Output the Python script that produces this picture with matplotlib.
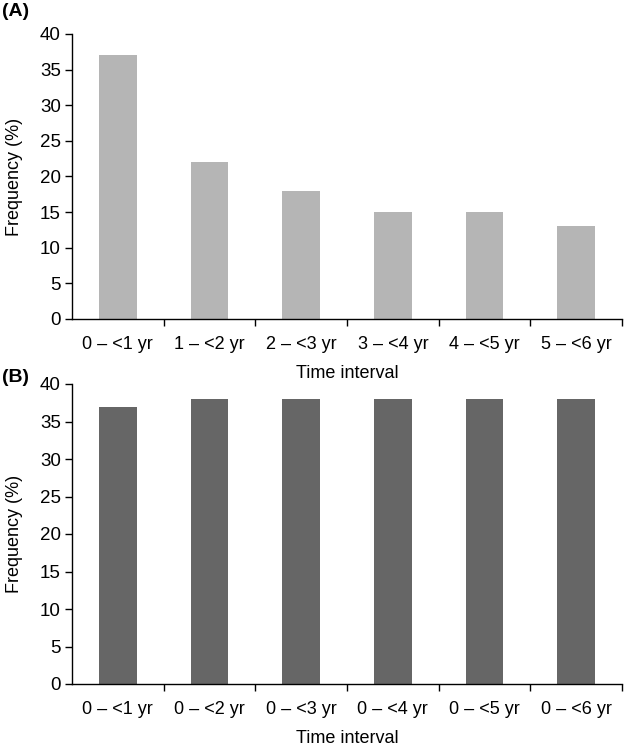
import numpy as np
import matplotlib
import matplotlib.pyplot as plt

matplotlib.use('Agg')
plt.rcParams['font.family'] = ['Liberation Sans', 'DejaVu Sans']

labels_a = ['0 – <1 yr', '1 – <2 yr', '2 – <3 yr', '3 – <4 yr', '4 – <5 yr', '5 – <6 yr']
labels_b = ['0 – <1 yr', '0 – <2 yr', '0 – <3 yr', '0 – <4 yr', '0 – <5 yr', '0 – <6 yr']
freq_a = [37, 22, 18, 15, 15, 13]
freq_b = [37, 38, 38, 38, 38, 38]


def draw_panel(ax, labels, values, color):
    x = np.arange(len(labels))
    ax.bar(x, values, width=0.41, color=color, zorder=2)
    ax.set_xlim(-0.5, len(labels) - 0.5)
    ax.set_ylim(0, 40)
    ax.set_yticks(range(0, 41, 5))
    ax.set_xticks(x)
    ax.set_xticklabels(labels, fontsize=13)
    ax.set_xticks(np.arange(len(labels)) + 0.5, minor=True)
    ax.tick_params(axis='x', which='major', length=0, pad=12)
    ax.tick_params(axis='x', which='minor', length=5, width=1, direction='out')
    ax.tick_params(axis='y', length=5, width=1, direction='out', labelsize=13.5, pad=3)
    for s in ['top', 'right']:
        ax.spines[s].set_visible(False)
    ax.spines['left'].set_linewidth(1)
    ax.spines['bottom'].set_linewidth(1)
    ax.set_ylabel('Frequency (%)', fontsize=13, labelpad=12)
    ax.set_xlabel('Time interval', fontsize=13, labelpad=9)


fig = plt.figure(figsize=(6.26, 7.5), dpi=100)
ax_a = fig.add_axes([0.115, 0.5747, 0.8786, 0.38])
ax_b = fig.add_axes([0.115, 0.088, 0.8786, 0.40])

draw_panel(ax_a, labels_a, freq_a, '#b5b5b5')
draw_panel(ax_b, labels_b, freq_b, '#666666')

fig.text(0.003, 0.984, '(A)', fontsize=14, fontweight='bold', va='center')
fig.text(0.003, 0.497, '(B)', fontsize=14, fontweight='bold', va='center')

fig.savefig('out.png', dpi=100)
